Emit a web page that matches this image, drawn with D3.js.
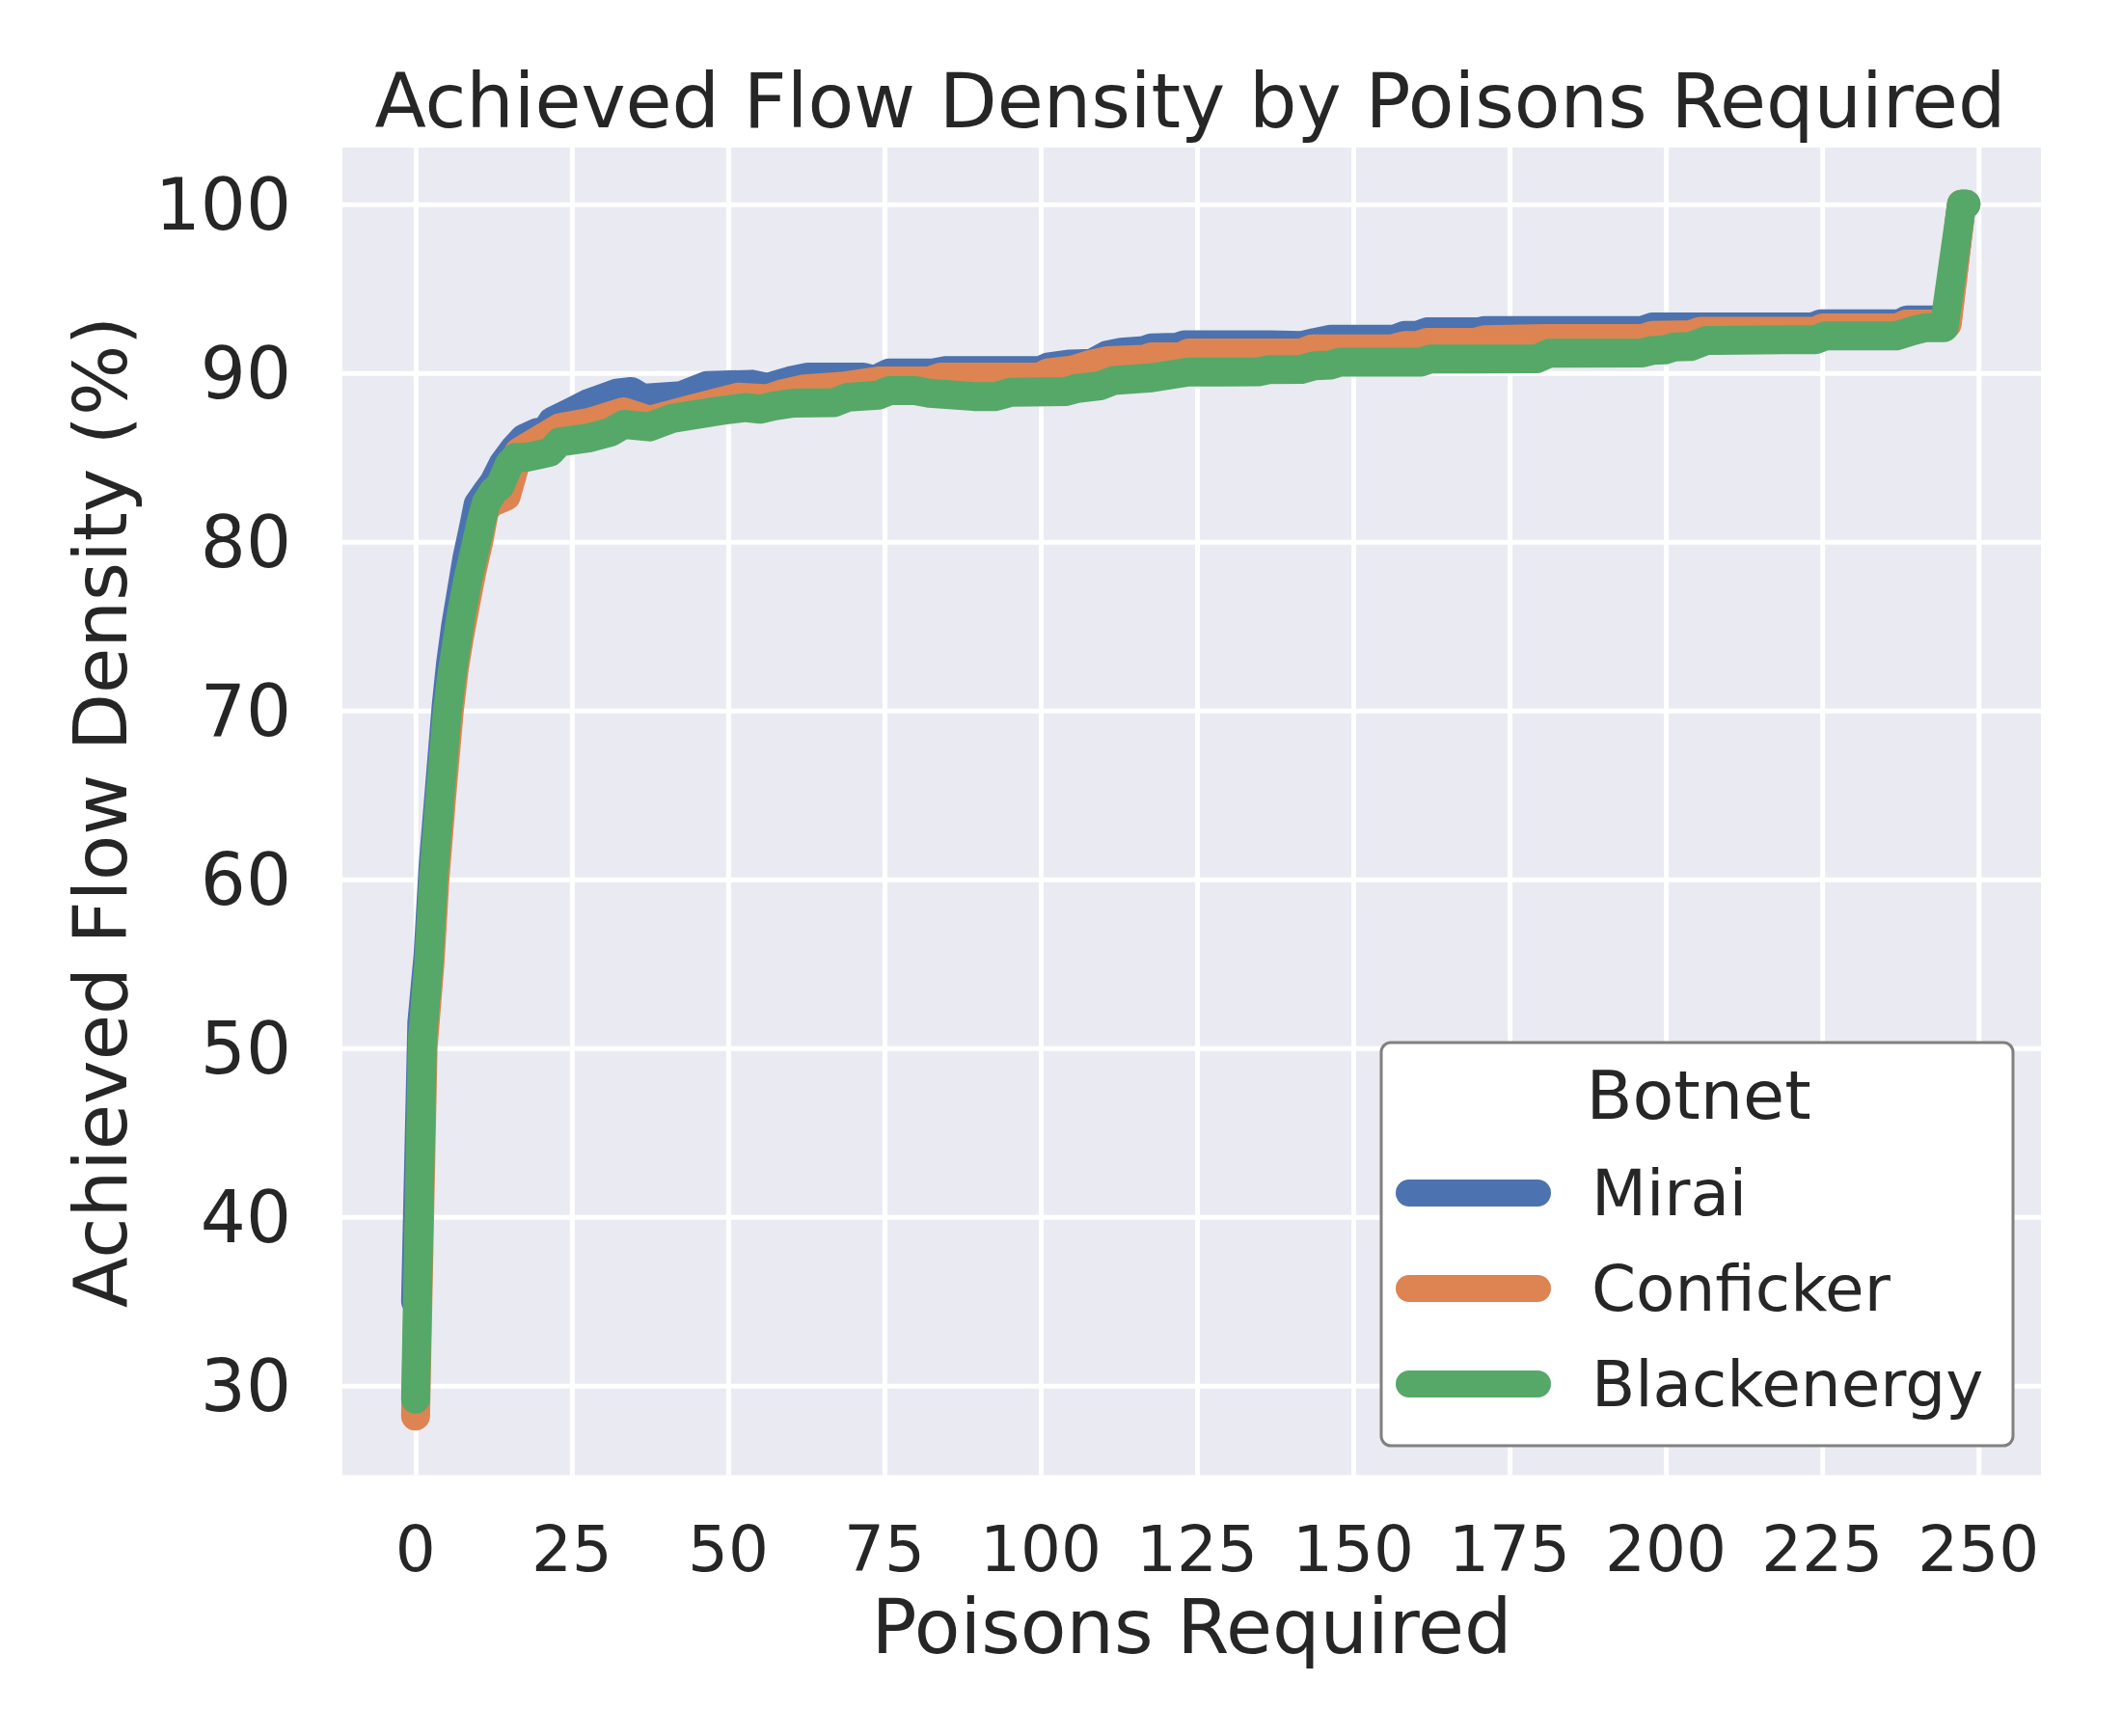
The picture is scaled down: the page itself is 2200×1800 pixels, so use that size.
<!DOCTYPE html>
<html>
<head>
<meta charset="utf-8">
<script src="https://cdn.jsdelivr.net/npm/d3@7"></script>
<style>
  body { margin: 0; background: #fff; }
  text { font-family: "DejaVu Sans", sans-serif; fill: #262626; }
</style>
</head>
<body>
<svg id="mainsvg" width="2200" height="1800"></svg>
<script>
// series: poisons required vs achieved flow density (%)
const botnets = ['Mirai', 'Conficker', 'Blackenergy'];
const colors = ['#4c72b0', '#dd8452', '#55a868'];

const miraiX = [0, 1, 2, 2.8, 3.8, 4.9, 5.6, 6.4, 7.3, 8.2, 9.3, 10, 11.5, 12.5, 14, 15.8, 17.3, 19.4, 20.9, 21.9, 24.5, 27.6, 32.2, 34.5, 36.3, 42.5, 46.6, 53.8, 56.3, 59.8, 62.8, 71.6, 73.4, 75.8, 82.8, 84.6, 99.9, 101.1, 104.7, 108.2, 110.6, 112.9, 116.5, 117.7, 121.8, 123, 136.6, 141.7, 143.8, 146.4, 156.6, 158.2, 160.2, 161.8, 170, 171, 196.2, 197.8, 223.5, 224.8, 237.4, 238.6, 245, 247.3, 248];
const miraiY = [35, 51.5, 55.5, 60.8, 65.3, 70.3, 72.8, 75, 77, 79, 80.9, 82.2, 83, 83.5, 84.6, 85.5, 86.1, 86.47, 86.57, 87.14, 87.6, 88.19, 88.8, 88.9, 88.5, 88.65, 89.25, 89.33, 89.14, 89.52, 89.75, 89.75, 89.58, 90.0, 90.0, 90.13, 90.13, 90.34, 90.53, 90.57, 91.05, 91.23, 91.33, 91.48, 91.52, 91.67, 91.67, 91.62, 91.8, 91.99, 91.99, 92.22, 92.22, 92.43, 92.43, 92.51, 92.51, 92.72, 92.72, 92.91, 92.91, 93.14, 93.14, 100, 100];

const confickerX = [0, 1.2, 2.3, 3.1, 4.2, 5.4, 6.2, 7, 8, 9, 10.1, 11, 12, 14.5, 16.5, 17.8, 23, 28.1, 33.3, 37.4, 43.5, 48.7, 51.6, 56.3, 58.6, 62.2, 68.7, 74, 82.2, 84, 99.9, 101.1, 105.3, 107.6, 110.6, 116.5, 117.7, 122.4, 123.6, 141.7, 143.3, 156.1, 158.2, 160.2, 161.8, 169.5, 171, 180.8, 196.2, 197.8, 203.9, 205.5, 224, 225, 237, 238.4, 245, 247.3, 248];
const confickerY = [28.2, 50, 55, 60, 65, 70, 72.5, 74.3, 76.3, 78.2, 80, 81.8, 82.3, 82.7, 85.3, 85.6, 86.75, 87.1, 87.7, 87.2, 87.8, 88.3, 88.57, 88.47, 88.76, 89.05, 89.23, 89.52, 89.52, 89.75, 89.75, 90.0, 90.19, 90.47, 90.72, 90.81, 90.95, 90.95, 91.18, 91.18, 91.42, 91.42, 91.62, 91.62, 91.81, 91.81, 91.96, 92.03, 92.03, 92.22, 92.26, 92.47, 92.47, 92.66, 92.66, 92.89, 92.89, 100, 100];

const blackenergyX = [0, 1.1, 2.1, 2.85, 3.9, 5.04, 5.8, 6.6, 7.4, 8.4, 9.6, 10.5, 11.3, 12.5, 13.5, 15, 16, 17.8, 19.8, 21.5, 23, 27.6, 31.2, 33.3, 37.4, 41, 47.7, 49.2, 52.7, 55.1, 57.4, 60.4, 66.9, 69.2, 74, 75.8, 79.9, 82.2, 89.3, 92.8, 95.2, 104.1, 105.8, 109.4, 111.7, 117.7, 123.6, 134.8, 136.6, 141.7, 143.8, 146.4, 147.9, 160.8, 162.3, 179.3, 181.3, 196.2, 197.8, 199.8, 201.4, 203.9, 206.5, 218.8, 224, 225.5, 236.8, 239.4, 241.5, 244.5, 247.3, 248];
const blackenergyY = [29.2, 50.6, 55, 60, 64.85, 69.8, 72.1, 74, 75.9, 77.8, 79.7, 81.2, 82.3, 83, 83.3, 84.6, 85, 85.0, 85.16, 85.3, 85.9, 86.14, 86.5, 86.95, 86.8, 87.3, 87.7, 87.78, 87.95, 87.85, 88.04, 88.21, 88.23, 88.56, 88.68, 88.95, 88.95, 88.79, 88.6, 88.6, 88.85, 88.9, 89.08, 89.23, 89.55, 89.71, 90.05, 90.06, 90.2, 90.21, 90.42, 90.47, 90.64, 90.64, 90.82, 90.83, 91.16, 91.18, 91.33, 91.36, 91.54, 91.56, 91.92, 91.96, 91.97, 92.19, 92.19, 92.49, 92.68, 92.68, 100, 100];

const xTicks = [0, 25, 50, 75, 100, 125, 150, 175, 200, 225, 250];
const yTicks = [30, 40, 50, 60, 70, 80, 90, 100];

const seriesX = [miraiX, confickerX, blackenergyX];
const seriesY = [miraiY, confickerY, blackenergyY];

const svg = d3.select('#mainsvg');
const plot = {left: 355, right: 2116, top: 153, bottom: 1529.5};

const xScale = d3.scaleLinear().domain([-11.7, 260]).range([plot.left, plot.right]);
const yScale = d3.scaleLinear().domain([24.7, 103.35]).range([plot.bottom, plot.top]);

// background
svg.append('rect')
    .attr('x', plot.left).attr('y', plot.top)
    .attr('width', plot.right - plot.left).attr('height', plot.bottom - plot.top)
    .attr('fill', '#eaeaf2');

// grid via axes with full-length ticks
const xGrid = svg.append('g')
    .attr('transform', `translate(0, ${plot.bottom})`)
    .call(d3.axisBottom(xScale).tickValues(xTicks).tickSize(-(plot.bottom - plot.top)).tickFormat(''));
const yGrid = svg.append('g')
    .attr('transform', `translate(${plot.left}, 0)`)
    .call(d3.axisLeft(yScale).tickValues(yTicks).tickSize(-(plot.right - plot.left)).tickFormat(''));
[xGrid, yGrid].forEach(g => {
    g.select('.domain').remove();
    g.selectAll('.tick line').attr('stroke', '#ffffff').attr('stroke-width', 5);
});

// tick labels
svg.append('g').selectAll('text').data(xTicks).enter().append('text')
    .attr('x', d => xScale(d))
    .attr('y', 1629)
    .attr('text-anchor', 'middle')
    .style('font-size', '66px')
    .text(d => d);

svg.append('g').selectAll('text').data(yTicks).enter().append('text')
    .attr('x', 302)
    .attr('y', d => yScale(d))
    .attr('dy', '0.36em')
    .attr('text-anchor', 'end')
    .style('font-size', '74px')
    .text(d => d);

// lines
const line = d3.line().x(d => xScale(d[0])).y(d => yScale(d[1]));
svg.append('clipPath').attr('id', 'plotclip').append('rect')
    .attr('x', plot.left).attr('y', plot.top)
    .attr('width', plot.right - plot.left).attr('height', plot.bottom - plot.top);

svg.append('g').attr('clip-path', 'url(#plotclip)')
    .selectAll('path').data(botnets).enter().append('path')
    .attr('d', (d, i) => line(d3.zip(seriesX[i], seriesY[i])))
    .attr('fill', 'none')
    .attr('stroke', (d, i) => colors[i])
    .attr('stroke-width', 30)
    .attr('stroke-linecap', 'round')
    .attr('stroke-linejoin', 'round');

// titles
svg.append('text')
    .attr('x', 1234).attr('y', 132)
    .attr('text-anchor', 'middle')
    .style('font-size', '78px')
    .text('Achieved Flow Density by Poisons Required');

svg.append('text')
    .attr('x', (plot.left + plot.right) / 2).attr('y', 1714)
    .attr('text-anchor', 'middle')
    .style('font-size', '78px')
    .text('Poisons Required');

svg.append('text')
    .attr('transform', 'translate(131, 842) rotate(-90)')
    .attr('text-anchor', 'middle')
    .style('font-size', '77px')
    .text('Achieved Flow Density (%)');

// legend
const legend = svg.append('g');
legend.append('rect')
    .attr('x', 1432).attr('y', 1081)
    .attr('width', 655).attr('height', 418)
    .attr('rx', 10).attr('ry', 10)
    .attr('fill', '#ffffff')
    .attr('stroke', '#808080')
    .attr('stroke-width', 3);

legend.append('text')
    .attr('x', 1761).attr('y', 1160)
    .attr('text-anchor', 'middle')
    .style('font-size', '70px')
    .text('Botnet');

const entries = legend.selectAll('.entry').data(botnets).enter().append('g')
    .attr('class', 'entry')
    .attr('transform', (d, i) => `translate(0, ${1237 + i * 99})`);

entries.append('line')
    .attr('x1', 1461).attr('x2', 1594)
    .attr('y1', 0).attr('y2', 0)
    .attr('stroke', (d, i) => colors[i])
    .attr('stroke-width', 28)
    .attr('stroke-linecap', 'round');

entries.append('text')
    .attr('x', 1650).attr('y', 23)
    .style('font-size', '66px')
    .text(d => d);
</script>
</body>
</html>
